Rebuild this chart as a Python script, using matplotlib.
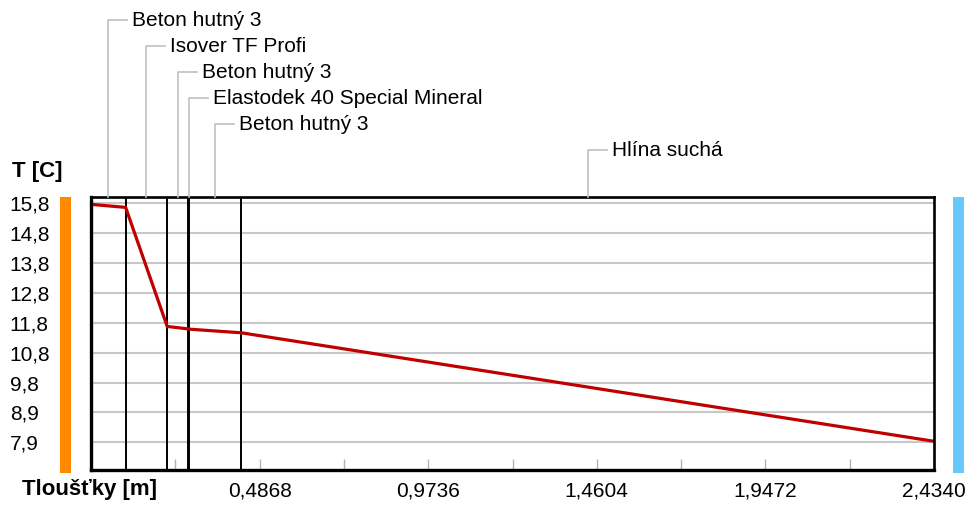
import numpy as np
import matplotlib
matplotlib.use("Agg")
import matplotlib.pyplot as plt
from matplotlib.patches import Rectangle
from matplotlib.lines import Line2D

plt.rcParams['font.family'] = ['Liberation Sans', 'DejaVu Sans']

# layers of the construction (from inside to outside)
layer_names = ["Beton hutný 3", "Isover TF Profi", "Beton hutný 3",
               "Elastodek 40 Special Mineral", "Beton hutný 3", "Hlína suchá"]
layer_bounds = [0.0, 0.1, 0.22, 0.28, 0.284, 0.434, 2.434]

# temperature at each layer interface [C]
temps = [15.77, 15.67, 11.73, 11.65, 11.64, 11.52, 7.93]

y_tick_labels = ["15,8", "14,8", "13,8", "12,8", "11,8", "10,8", "9,8", "8,9", "7,9"]
x_tick_vals = [0.4868, 0.9736, 1.4604, 1.9472, 2.4340]
x_tick_labels = ["0,4868", "0,9736", "1,4604", "1,9472", "2,4340"]

W, H = 969, 507
fig = plt.figure(figsize=(W / 100, H / 100), dpi=100)
ax = fig.add_axes([91 / W, 1 - 470 / H, (934 - 91) / W, (470 - 196.5) / H])

y_ticks = np.linspace(15.8, 7.9, len(y_tick_labels))
ax.set_xlim(0, 2.434)
ax.set_ylim(6.98, 16.03)

for yt in y_ticks:
    ax.axhline(yt, color='#c8c8c8', lw=1.5, zorder=1)

for xb in layer_bounds[1:-1]:
    ax.axvline(xb, color='black', lw=1.4, zorder=2)

ax.plot(layer_bounds, temps, color='#c00000', lw=2.3, zorder=4, solid_capstyle='butt')

ax.set_yticks(y_ticks)
ax.set_yticklabels(y_tick_labels, ha='left')
ax.tick_params(axis='y', length=0, pad=58.5, labelsize=15)

ax.set_xticks(x_tick_vals)
ax.set_xticklabels(x_tick_labels)
ax.set_xticks([0.2434, 0.7302, 1.2170, 1.7038, 2.1906], minor=True)
ax.tick_params(axis='x', which='both', direction='in', length=8, width=1,
               color='#b4b4b4', pad=8, labelsize=15)

for side in ['left', 'bottom']:
    ax.spines[side].set_linewidth(2.4)
for side in ['top', 'right']:
    ax.spines[side].set_linewidth(1.9)
for sp in ax.spines.values():
    sp.set_zorder(5)

# boundary condition bars
fig.add_artist(Rectangle((60 / W, 1 - 472.5 / H), 11 / W, 276 / H,
                         transform=fig.transFigure, color='#ff8a00', lw=0))
fig.add_artist(Rectangle((953 / W, 1 - 472.5 / H), 11 / W, 276 / H,
                         transform=fig.transFigure, color='#66c8ff', lw=0))

# layer labels with leader lines
fig.canvas.draw()
top_f = 1 - 196.5 / H
for i, name in enumerate(layer_names):
    mid = (layer_bounds[i] + layer_bounds[i + 1]) / 2
    xp = ax.transData.transform((mid, 0))[0]
    ly = 1 - (20 + 26 * i) / H
    xf = xp / W
    fig.add_artist(Line2D([xf, xf, xf + 19 / W], [top_f, ly, ly],
                          transform=fig.transFigure, color='#c0c0c0', lw=1.2))
    fig.text(xf + 24 / W, ly, name, ha='left', va='center', fontsize=15)

fig.text(12 / W, 1 - 171 / H, "T [C]", ha='left', va='center',
         fontsize=16, fontweight='bold')
fig.text(22 / W, 1 - 489 / H, "Tloušťky [m]", ha='left', va='center',
         fontsize=16, fontweight='bold')

fig.savefig("out.png", dpi=100, facecolor='white')
